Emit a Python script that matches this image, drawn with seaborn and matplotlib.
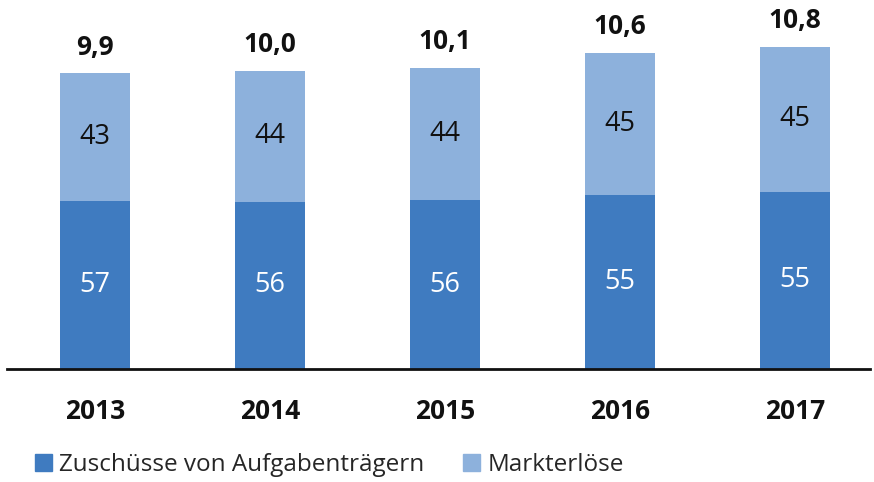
import matplotlib
matplotlib.use("Agg")
import matplotlib.pyplot as plt
import seaborn as sns
import pandas as pd
from matplotlib.patches import Patch

years = ["2013", "2014", "2015", "2016", "2017"]
totals = [9.9, 10.0, 10.1, 10.6, 10.8]
totals_labels = ["9,9", "10,0", "10,1", "10,6", "10,8"]
zuschuesse_pct = [57, 56, 56, 55, 55]
markt_pct = [43, 44, 44, 45, 45]

dark = "#3F7BC0"
light = "#8DB1DC"

sns.set_theme(style="white")
plt.rcParams["font.family"] = ["Open Sans", "DejaVu Sans"]

df = pd.DataFrame({
    "year": years,
    "total": totals,
    "bottom": [t * p / 100 for t, p in zip(totals, zuschuesse_pct)],
})

fig = plt.figure(figsize=(8.74, 4.82), dpi=100)
ax = fig.add_axes([7 / 874, (482 - 369) / 482, 863 / 874, (369 - 20) / 482])

sns.barplot(data=df, x="year", y="total", color=light, width=0.4, ax=ax,
            saturation=1, linewidth=0, errorbar=None)
sns.barplot(data=df, x="year", y="bottom", color=dark, width=0.4, ax=ax,
            saturation=1, linewidth=0, errorbar=None)

ax.set_xlim(-0.503, 4.429)
ax.set_ylim(0, (369 - 20) / 29.85)

for i in range(len(years)):
    b = df["bottom"][i]
    t = totals[i]
    ax.text(i, b / 2, str(zuschuesse_pct[i]), ha="center", va="center",
            color="white", fontsize=19.5)
    ax.text(i, b + (t - b) / 2, str(markt_pct[i]), ha="center", va="center",
            color="#111111", fontsize=19.5)
    ax.text(i, t + 0.87, totals_labels[i], ha="center", va="center",
            color="#111111", fontsize=19, fontweight="bold")

ax.set_xlabel("")
ax.set_ylabel("")
ax.set_yticks([])
ax.tick_params(axis="x", length=0, pad=21, labelsize=19)
for lbl in ax.get_xticklabels():
    lbl.set_fontweight("bold")
    lbl.set_color("#111111")
for s in ["top", "right", "left"]:
    ax.spines[s].set_visible(False)
ax.spines["bottom"].set_color("#111111")
ax.spines["bottom"].set_linewidth(2)

handles = [Patch(color=dark, label="Zuschüsse von Aufgabenträgern"),
           Patch(color=light, label="Markterlöse")]
fig.legend(handles=handles, loc="center left", bbox_to_anchor=(0.015, 0.035),
           ncol=2, frameon=False, fontsize=17.5, handlelength=0.7, handleheight=0.7,
           handletextpad=0.3, columnspacing=1.6)

fig.savefig("out.png", dpi=100)
